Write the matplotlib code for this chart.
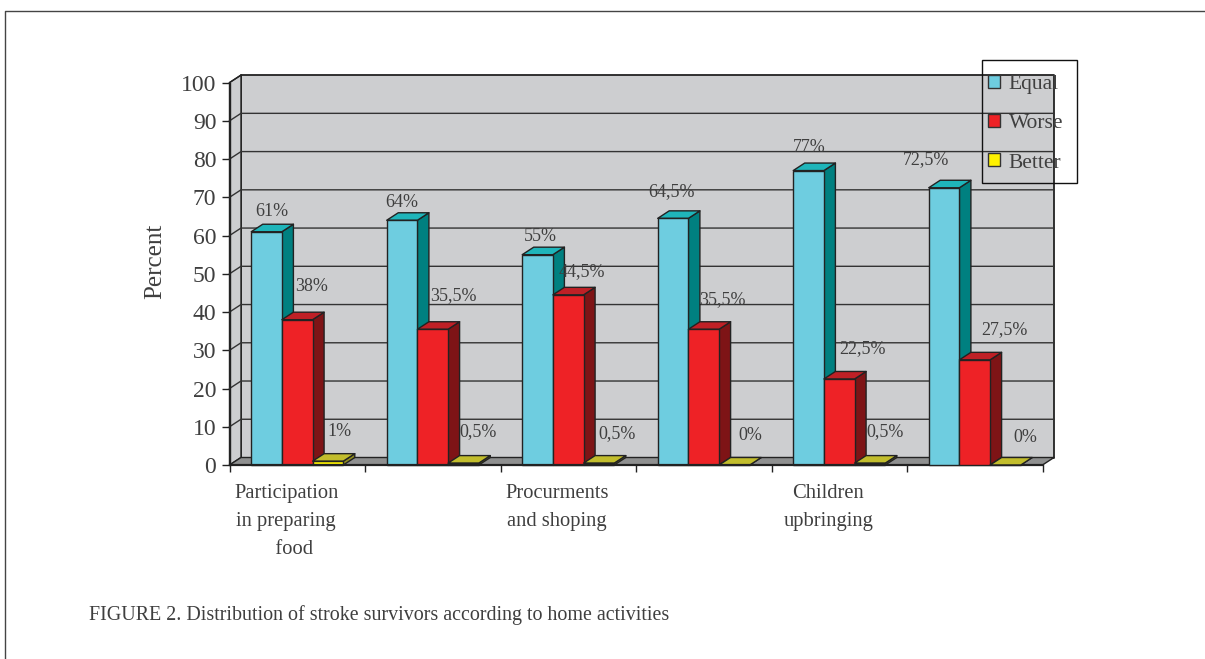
import matplotlib
matplotlib.use('Agg')
import matplotlib.pyplot as plt
from matplotlib.lines import Line2D
from matplotlib.patches import Polygon, Patch, Rectangle
from matplotlib.transforms import offset_copy
import numpy as np

plt.rcParams['font.family'] = ['Liberation Serif', 'DejaVu Serif']

# data
categories = ['Participation\nin preparing\n   food', '', 'Procurments\nand shoping', '', 'Children\nupbringing', '']
series_names = ['Equal', 'Worse', 'Better']
equal = [61, 64, 55, 64.5, 77, 72.5]
worse = [38, 35.5, 44.5, 35.5, 22.5, 27.5]
better = [1, 0.5, 0.5, 0, 0.5, 0]
equal_labels = ['61%', '64%', '55%', '64,5%', '77%', '72,5%']
worse_labels = ['38%', '35,5%', '44,5%', '35,5%', '22,5%', '27,5%']
better_labels = ['1%', '0,5%', '0,5%', '0%', '0,5%', '0%']
yticks = np.arange(0, 101, 10)

# style
W, H = 1205, 659
ax_l, ax_r, ax_t, ax_b = 229.5, 1042.5, 82.6, 465
colors = [('#6ecde0', '#1fb5ba', '#008080'),
          ('#ee2226', '#bf2026', '#7e1416'),
          ('#fff200', '#c2bd2c', '#8f8c1e')]
line_c = '#222222'
text_c = '#3f3f3f'
bar_w = 0.2265

# label offsets from the bar top, in pixels (x, y up)
equal_off = [(5, 20), (0, 18), (3, 18), (-2, 27), (1, 23), (-18, 28)]
worse_off = [(14, 33), (21, 34), (14, 23), (19, 30), (23, 30), (30, 30)]
better_off = [(12, 30), (15, 31), (18, 29), (16, 30), (15, 31), (20, 28)]

fig = plt.figure(figsize=(W / 100, H / 100), dpi=100)
ax = fig.add_axes([ax_l / W, 1 - ax_b / H, (ax_r - ax_l) / W, (ax_b - ax_t) / H])
ax.set_xlim(0, 6)
ax.set_ylim(0, 100)
ax.patch.set_visible(False)
for s in ['top', 'right']:
    ax.spines[s].set_visible(False)
ax.spines['bottom'].set_linewidth(1.6)
ax.spines['bottom'].set_color(line_c)
ax.spines['bottom'].set_zorder(6)
ax.spines['left'].set_color(line_c)
ax.spines['left'].set_linewidth(1.0)
ax.spines['left'].set_zorder(2)

# depth of the fake 3d box in data units
dx = 11.5 / ((ax_r - ax_l) / 6)
dy = 7.5 / ((ax_b - ax_t) / 100)


def poly(pts, fc, z, lw=1.0):
    ax.add_patch(Polygon(pts, closed=True, facecolor=fc, edgecolor=line_c, lw=lw,
                         zorder=z, clip_on=False, joinstyle='round'))


poly([(dx, dy), (6 + dx, dy), (6 + dx, 100 + dy), (dx, 100 + dy)], '#cdced0', 1, 1.3)
poly([(0, 0), (dx, dy), (dx, 100 + dy), (0, 100)], '#cdced0', 1, 1.0)
poly([(0, 0), (6, 0), (6 + dx, dy), (dx, dy)], '#8f9090', 2, 1.0)
for v in yticks[1:-1]:
    ax.plot([0, dx, 6 + dx], [v, v + dy, v + dy], color='#333333', lw=1.0, zorder=2, clip_on=False)
ax.plot([0, dx], [100, 100 + dy], color=line_c, lw=1.0, zorder=2, clip_on=False)


def label(x, y, s, off):
    tr = offset_copy(ax.transData, fig=fig, x=off[0], y=off[1], units='dots')
    ax.text(x, y, s, transform=tr, ha='center', va='center', fontsize=13, color=text_c,
            zorder=9, clip_on=False)


all_vals = [equal, worse, better]
all_labels = [equal_labels, worse_labels, better_labels]
all_off = [equal_off, worse_off, better_off]
z = 3.0
for i in range(len(categories)):
    x0 = i + 0.5 - 1.5 * bar_w
    for j in range(3):
        v = all_vals[j][i]
        x = x0 + j * bar_w
        fc, tc, sc = colors[j]
        poly([(x + bar_w, 0), (x + bar_w + dx, dy), (x + bar_w + dx, v + dy), (x + bar_w, v)], sc, z)
        poly([(x, v), (x + dx, v + dy), (x + bar_w + dx, v + dy), (x + bar_w, v)], tc, z)
        ax.bar(x, v, width=bar_w, align='edge', color=fc, edgecolor=line_c, linewidth=1.0,
               zorder=z + 0.1, clip_on=False)
        label(x + bar_w / 2, v, all_labels[j][i], all_off[j][i])
        z += 0.2

# axes ticks
ax.set_yticks(yticks)
ax.set_xticks(np.arange(0, 7))
ax.set_xticklabels([])
ax.tick_params(axis='y', length=5.5, width=1.0, color=line_c, pad=4, labelsize=17, labelcolor=text_c)
ax.tick_params(axis='x', length=5, width=1.0, color=line_c)

for i, c in enumerate(categories):
    if c:
        tr = offset_copy(ax.get_xaxis_transform(), fig=fig, x=-11, y=-19, units='dots')
        ax.text(i + 0.5, 0, c, transform=tr, ha='center', va='top', fontsize=14.8,
                color=text_c, linespacing=1.65, clip_on=False)

fig.text(155 / W, 1 - 261 / H, 'Percent', rotation=90, ha='center', va='center',
         fontsize=18, color=text_c)
fig.text(89 / W, 1 - 615 / H, 'FIGURE 2. Distribution of stroke survivors according to home activities',
         ha='left', va='center', fontsize=14.42, color=text_c)

handles = [Patch(facecolor=colors[k][0], edgecolor='#333333', lw=1.0) for k in range(3)]
leg = ax.legend(handles, series_names, loc='upper left', bbox_to_anchor=(988 / W, 1 - 75 / H),
                bbox_transform=fig.transFigure, borderaxespad=0, borderpad=0, fontsize=15.5,
                frameon=False, handlelength=0.56, handleheight=0.56, handletextpad=0.4,
                labelspacing=0.93, labelcolor=text_c)
leg.set_zorder(10)
fig.add_artist(Rectangle((982 / W, 1 - 183 / H), 95 / W, 123 / H, transform=fig.transFigure,
                         facecolor='none', edgecolor='#111111', lw=1.0))

# page frame around the figure
fig.add_artist(Line2D([5 / W, 5 / W, 1], [0, 1 - 11 / H, 1 - 11 / H], color='#444444', lw=1.0))

fig.savefig('out.png', dpi=100)
